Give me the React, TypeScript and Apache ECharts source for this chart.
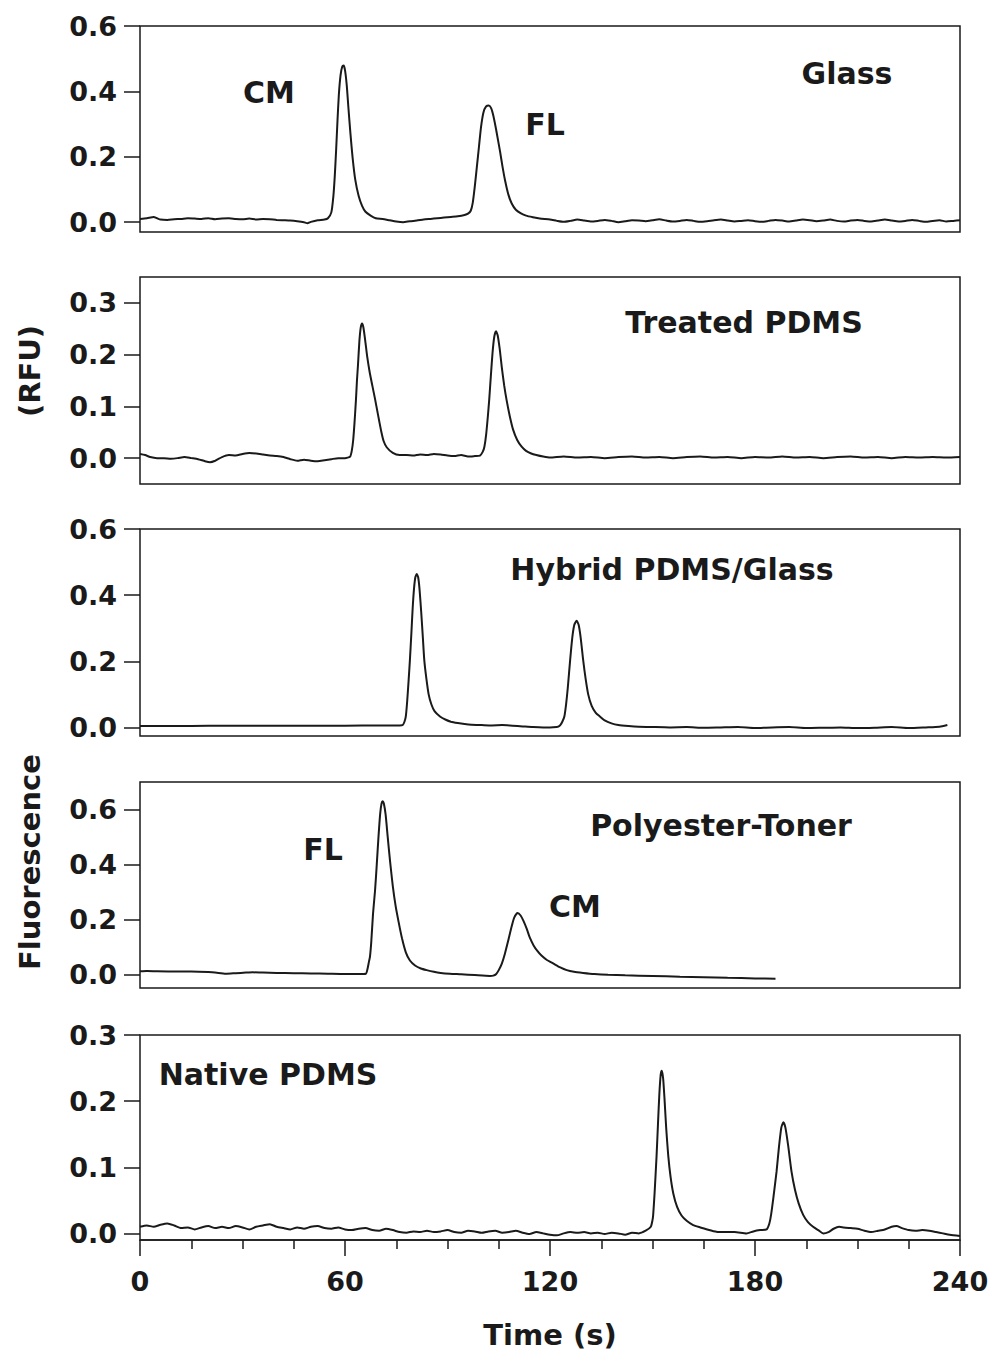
import React, { useEffect, useRef } from "react";
import * as echarts from "echarts";

// ---------- data (time s, fluorescence RFU) ----------
const glassTrace: number[][] = [
  [0, 0.01], [2, 0.012], [4, 0.016], [5, 0.012], [6, 0.008], [8, 0.007], [10, 0.009], [12, 0.01], [14, 0.012], [16, 0.011],
  [18, 0.01], [20, 0.012], [22, 0.009], [24, 0.011], [26, 0.012], [28, 0.01], [30, 0.009], [32, 0.011], [34, 0.008], [36, 0.01],
  [38, 0.009], [40, 0.007], [42, 0.006], [44, 0.005], [46, 0.003], [48, 0.0], [49, -0.003], [50, 0.001], [52, 0.006], [54, 0.008],
  [55, 0.012], [56, 0.03], [56.6, 0.08], [57, 0.14], [57.4, 0.22], [57.8, 0.31], [58.2, 0.39], [58.7, 0.45], [59.2, 0.476], [59.6, 0.479],
  [60, 0.465], [60.5, 0.42], [61, 0.35], [61.6, 0.27], [62.2, 0.2], [63, 0.13], [64, 0.08], [65, 0.05], [66, 0.032], [67.5, 0.02],
  [69, 0.012], [71, 0.01], [73, 0.006], [75, 0.002], [77, 0.0], [79, 0.003], [81, 0.005], [83, 0.008], [85, 0.01], [87, 0.012],
  [89, 0.014], [91, 0.016], [93, 0.018], [95, 0.022], [96, 0.026],
  [96.8, 0.035], [97.4, 0.06], [98, 0.11], [98.6, 0.17], [99.2, 0.23], [99.8, 0.29], [100.5, 0.335], [101.3, 0.354], [102.1, 0.357],
  [102.8, 0.348], [103.5, 0.322], [104.2, 0.285], [104.8, 0.25], [105.4, 0.215], [106.1, 0.17], [106.9, 0.125], [107.8, 0.085],
  [108.8, 0.057], [110, 0.038], [111.5, 0.027], [113, 0.02], [115, 0.015], [117, 0.011], [120, 0.008],
  [122, 0.004], [124, 0.001], [126, 0.004], [128, 0.008], [130, 0.005], [132, 0.002], [134, 0.004], [136, 0.007], [138, 0.004],
  [140, 0.0], [142, 0.003], [144, 0.006], [146, 0.005], [148, 0.003], [150, 0.006], [152, 0.009], [154, 0.005], [156, 0.002],
  [158, 0.004], [160, 0.007], [162, 0.004], [164, 0.001], [166, 0.003], [168, 0.006], [170, 0.008], [172, 0.005], [174, 0.002],
  [176, 0.004], [178, 0.006], [180, 0.003], [182, 0.001], [184, 0.004], [186, 0.007], [188, 0.005], [190, 0.002], [192, 0.005],
  [194, 0.008], [196, 0.006], [198, 0.003], [200, 0.005], [202, 0.008], [204, 0.004], [206, 0.002], [208, 0.005], [210, 0.007],
  [212, 0.004], [214, 0.002], [216, 0.005], [218, 0.008], [220, 0.005], [222, 0.002], [224, 0.004], [226, 0.007], [228, 0.004],
  [230, 0.001], [232, 0.004], [234, 0.006], [236, 0.002], [238, 0.004], [240, 0.006],
];

const treatedTrace: number[][] = [
  [0, 0.008], [1.5, 0.006], [3, 0.002], [5, 0.0], [7, 0.0], [9, -0.001], [11, 0.0], [13, 0.002], [15, 0.0], [17, -0.002],
  [19, -0.006], [20.5, -0.008], [22, -0.005], [24, 0.002], [26, 0.006], [28, 0.005], [30, 0.008], [32, 0.01], [34, 0.009],
  [36, 0.007], [38, 0.005], [40, 0.004], [42, 0.002], [44, -0.002], [46, -0.005], [48, -0.003], [50, -0.005], [52, -0.006],
  [54, -0.004], [56, -0.002], [58, 0.0], [60, 0.0], [61.5, 0.003],
  [62, 0.015], [62.4, 0.035], [62.8, 0.07], [63.2, 0.112], [63.5, 0.15], [63.8, 0.18], [64.2, 0.225], [64.6, 0.252], [65, 0.26],
  [65.4, 0.252], [65.9, 0.228], [66.5, 0.196], [67.2, 0.167], [68, 0.14], [68.8, 0.114], [69.6, 0.086], [70.6, 0.052],
  [71.3, 0.033], [72.2, 0.021], [74, 0.01], [76, 0.006],
  [78, 0.006], [80, 0.005], [82, 0.007], [84, 0.006], [86, 0.008], [88, 0.007], [90, 0.005], [92, 0.004], [94, 0.006],
  [96, 0.003], [98, 0.004], [99.5, 0.005],
  [100.3, 0.012], [100.8, 0.022], [101.3, 0.045], [101.8, 0.08], [102.2, 0.112], [102.7, 0.16], [103.2, 0.205], [103.7, 0.235],
  [104.2, 0.245], [104.7, 0.237], [105.3, 0.21], [105.9, 0.175], [106.6, 0.14], [107.3, 0.112], [108.2, 0.082], [109.2, 0.055],
  [110.4, 0.035], [111.7, 0.022], [113, 0.014], [114.5, 0.009], [116, 0.006],
  [118, 0.003], [120, 0.001], [124, 0.003], [128, 0.001], [132, 0.002], [136, 0.0], [140, 0.002], [144, 0.003], [148, 0.001],
  [152, 0.002], [156, 0.0], [160, 0.002], [164, 0.003], [168, 0.001], [172, 0.002], [176, 0.0], [180, 0.002], [184, 0.001],
  [188, 0.003], [192, 0.001], [196, 0.002], [200, 0.0], [204, 0.002], [208, 0.003], [212, 0.001], [216, 0.002], [220, 0.0],
  [224, 0.002], [228, 0.001], [232, 0.002], [236, 0.001], [240, 0.002],
];

const hybridTrace: number[][] = [
  [0, 0.005], [10, 0.005], [20, 0.006], [30, 0.006], [40, 0.006], [50, 0.006], [60, 0.006], [70, 0.007], [76, 0.007],
  [76.9, 0.008], [77.4, 0.018], [77.8, 0.034], [78.2, 0.08], [78.6, 0.14], [79, 0.205], [79.4, 0.28], [79.8, 0.36], [80.2, 0.42],
  [80.6, 0.455], [81, 0.464], [81.4, 0.455], [81.8, 0.42], [82.3, 0.35], [82.8, 0.27], [83.2, 0.205], [83.8, 0.15], [84.5, 0.1],
  [85.3, 0.07], [86.2, 0.05], [87.8, 0.034], [89.5, 0.024], [91, 0.018], [93, 0.014], [95, 0.011], [97, 0.009], [100, 0.008],
  [103, 0.007], [106, 0.008], [109, 0.006], [112, 0.004], [115, 0.002], [118, 0.001], [120, 0.001], [122, 0.002],
  [122.4, 0.003], [123, 0.008], [123.6, 0.018], [124.2, 0.034], [124.7, 0.07], [125.2, 0.12], [125.9, 0.205], [126.5, 0.27],
  [127.1, 0.31], [127.8, 0.323], [128.4, 0.31], [129, 0.27], [129.7, 0.205], [130.4, 0.15], [131.2, 0.1], [132.2, 0.066],
  [133.4, 0.045], [134.6, 0.034], [136, 0.022], [138, 0.013], [140, 0.008], [143, 0.005], [146, 0.003],
  [150, 0.002], [155, 0.001], [160, 0.002], [165, 0.0], [170, 0.001], [175, 0.002], [180, -0.001], [185, 0.001], [190, 0.002],
  [195, -0.001], [200, 0.0], [205, 0.001], [210, -0.001], [215, 0.0], [220, 0.002], [225, -0.001], [230, 0.001], [234, 0.003],
  [236.3, 0.008],
];

const polyesterTrace: number[][] = [
  [0, 0.011], [2, 0.012], [5, 0.011], [10, 0.01], [15, 0.01], [20, 0.008], [23, 0.005], [25.4, 0.002], [28, 0.004], [31, 0.006],
  [33, 0.007], [36, 0.006], [40, 0.005], [45, 0.004], [50, 0.003], [55, 0.002], [60, 0.001], [64, 0.001], [66.1, 0.002],
  [66.6, 0.02], [67, 0.045], [67.3, 0.063], [67.7, 0.12], [68.2, 0.22], [68.8, 0.306], [69.3, 0.4], [69.8, 0.5], [70.3, 0.585],
  [70.7, 0.622], [71, 0.63], [71.4, 0.62], [71.9, 0.58], [72.5, 0.5], [73.2, 0.41], [74, 0.32], [74.8, 0.25], [75.7, 0.19],
  [76.7, 0.13], [77.8, 0.08], [79, 0.05], [80.5, 0.032], [82.2, 0.021], [83.9, 0.015], [86, 0.009], [88, 0.005], [90.7, 0.002],
  [94, 0.0], [98, -0.003], [102.4, -0.006],
  [103.4, -0.005], [104.2, 0.0], [105, 0.015], [105.9, 0.039], [106.8, 0.075], [107.8, 0.124], [108.7, 0.17], [109.5, 0.205],
  [110.5, 0.223], [111.4, 0.214], [112.2, 0.195], [113.2, 0.165], [114.1, 0.133], [115.2, 0.105], [116.3, 0.085], [117.5, 0.068],
  [119, 0.053], [121, 0.039], [123, 0.025], [124.9, 0.015], [127, 0.009], [129.7, 0.005], [133, 0.001], [137, -0.002], [142, -0.004],
  [150, -0.006], [158, -0.009], [165, -0.011], [172, -0.013], [180, -0.015], [186, -0.016],
];

const nativeTrace: number[][] = [
  [0, 0.01], [2, 0.012], [4, 0.01], [6, 0.013], [8, 0.015], [10, 0.012], [12, 0.008], [14, 0.009], [16, 0.006], [18, 0.009],
  [20, 0.011], [22, 0.008], [24, 0.01], [26, 0.008], [28, 0.011], [30, 0.009], [32, 0.006], [34, 0.01], [36, 0.012], [38, 0.014],
  [40, 0.01], [42, 0.008], [44, 0.006], [46, 0.009], [48, 0.007], [50, 0.01], [52, 0.011], [54, 0.008], [56, 0.007], [58, 0.009],
  [60, 0.006], [62, 0.005], [64, 0.007], [66, 0.008], [68, 0.005], [70, 0.004], [72, 0.007], [74, 0.005], [76, 0.002], [78, 0.001],
  [80, 0.003], [82, 0.002], [84, 0.004], [86, 0.002], [88, 0.003], [90, 0.005], [92, 0.002], [94, 0.001], [96, 0.004], [98, 0.003],
  [100, 0.001], [102, 0.003], [104, 0.004], [106, 0.001], [108, 0.002], [110, 0.004], [112, 0.001], [114, -0.001], [116, 0.002],
  [118, 0.0], [120, -0.002], [122, -0.003], [124, 0.0], [126, 0.002], [128, 0.001], [130, 0.002], [132, 0.0], [134, 0.001],
  [136, -0.001], [138, 0.001], [140, 0.0], [142, -0.002], [144, 0.001], [146, 0.0], [148, 0.004], [149.5, 0.01],
  [150, 0.02], [150.2, 0.028], [150.6, 0.06], [151.2, 0.118], [151.6, 0.165], [152, 0.21], [152.4, 0.24], [152.7, 0.246],
  [153.1, 0.235], [153.5, 0.205], [154, 0.16], [154.6, 0.118], [155.3, 0.085], [156.1, 0.06], [157.2, 0.04], [158.5, 0.027],
  [160, 0.019], [161.9, 0.0125], [164, 0.009], [166, 0.006], [168.7, 0.0025], [171, 0.002], [174, 0.002], [177.5, 0.0],
  [179.5, 0.003], [181.5, 0.005], [183.4, 0.006],
  [184.2, 0.015], [184.7, 0.028], [185.4, 0.055], [186.3, 0.093], [187, 0.13], [187.7, 0.16], [188.3, 0.168], [188.9, 0.16],
  [189.7, 0.133], [190.7, 0.093], [191.7, 0.066], [192.8, 0.045], [194.1, 0.028], [195.5, 0.017], [197, 0.01], [198.5, 0.005],
  [200, 0.0], [201.5, 0.002], [203, 0.007], [204.6, 0.01], [206, 0.009], [208, 0.008], [210, 0.007], [212, 0.004], [214, 0.002],
  [216, 0.004], [218, 0.006], [220, 0.01], [221.4, 0.011], [223, 0.008], [225, 0.005], [227, 0.004], [229, 0.005], [231, 0.004],
  [233, 0.002], [235, 0.0], [237, -0.002], [240, -0.004],
];

const traces = [glassTrace, treatedTrace, hybridTrace, polyesterTrace, nativeTrace];
const yMins = [-0.03, -0.05, -0.025, -0.05, -0.01];
const yMaxs = [0.6, 0.35, 0.6, 0.7, 0.3];
const yTicks = [
  [0, 0.2, 0.4, 0.6],
  [0, 0.1, 0.2, 0.3],
  [0, 0.2, 0.4, 0.6],
  [0, 0.2, 0.4, 0.6],
  [0, 0.1, 0.2, 0.3],
];
const xTickLabels = [0, 60, 120, 180, 240];

// annotation labels: [text, x px, y px]
const annotations: [string, number, number][] = [
  ["CM", 269, 92],
  ["FL", 545, 124],
  ["Glass", 847, 73],
  ["Treated PDMS", 744, 322],
  ["Hybrid PDMS/Glass", 672, 569],
  ["FL", 323, 849],
  ["Polyester-Toner", 721, 825],
  ["CM", 575, 906],
  ["Native PDMS", 268, 1074],
];

const gridTops = [26, 277, 529, 782, 1035];
const gridHeights = [206, 207, 207, 206, 205];

const FONT = "DejaVu Sans";
const INK = "#1a1a1a";

export default function App() {
  const ref = useRef<HTMLDivElement>(null);
  useEffect(() => {
    if (!ref.current) return;
    const chart = echarts.init(ref.current, undefined, { renderer: "svg" });
    const last = traces.length - 1;
    const option: any = {
      animation: false,
      backgroundColor: "#ffffff",
      grid: traces.map((_, i) => ({
        left: 140,
        width: 820,
        top: gridTops[i],
        height: gridHeights[i],
        show: true,
        borderColor: INK,
        borderWidth: 1.5,
        backgroundColor: "transparent",
      })),
      xAxis: traces.map((_, i) => ({
        type: "value",
        gridIndex: i,
        min: 0,
        max: 240,
        interval: 60,
        show: i === last,
        axisLine: { show: true, onZero: false, lineStyle: { color: INK, width: 1.5 } },
        axisTick: { show: true, inside: false, length: 16, lineStyle: { color: INK, width: 1.5 } },
        minorTick: { show: true, splitNumber: 4, length: 9, lineStyle: { color: INK, width: 1.5 } },
        splitLine: { show: false },
        axisLabel: {
          show: true,
          margin: 28,
          fontFamily: FONT,
          fontWeight: "bold",
          fontSize: 27,
          color: INK,
          customValues: xTickLabels,
        },
        name: i === last ? "Time (s)" : "",
        nameLocation: "middle",
        nameGap: 80,
        nameTextStyle: { fontFamily: FONT, fontWeight: "bold", fontSize: 29, color: INK },
      })),
      yAxis: traces.map((_, i) => ({
        type: "value",
        gridIndex: i,
        min: yMins[i],
        max: yMaxs[i],
        axisLine: { show: false, onZero: false },
        axisTick: {
          show: true,
          inside: false,
          length: 16,
          lineStyle: { color: INK, width: 1.5 },
          customValues: yTicks[i],
        },
        splitLine: { show: false },
        axisLabel: {
          show: true,
          margin: 23,
          fontFamily: FONT,
          fontWeight: "bold",
          fontSize: 27,
          color: INK,
          customValues: yTicks[i],
          formatter: (v: number) => v.toFixed(1),
        },
      })),
      series: traces.map((d, i) => ({
        type: "line",
        xAxisIndex: i,
        yAxisIndex: i,
        data: d,
        showSymbol: false,
        symbol: "none",
        smooth: 0.2,
        lineStyle: { color: INK, width: 2 },
      })),
      graphic: [
        ...annotations.map(([t, x, y]) => ({
          type: "text",
          x,
          y,
          style: {
            text: t,
            fontFamily: FONT,
            fontWeight: "bold",
            fontSize: 30,
            fill: INK,
            align: "center",
            verticalAlign: "middle",
          },
        })),
        {
          type: "text",
          x: 30,
          y: 371,
          rotation: Math.PI / 2,
          style: {
            text: "(RFU)",
            fontFamily: FONT,
            fontWeight: "bold",
            fontSize: 29,
            fill: INK,
            align: "center",
            verticalAlign: "middle",
          },
        },
        {
          type: "text",
          x: 30,
          y: 862,
          rotation: Math.PI / 2,
          style: {
            text: "Fluorescence",
            fontFamily: FONT,
            fontWeight: "bold",
            fontSize: 29,
            fill: INK,
            align: "center",
            verticalAlign: "middle",
          },
        },
      ],
    };
    chart.setOption(option);
    return () => chart.dispose();
  }, []);
  return (
    <div
      ref={ref}
      style={{ position: "absolute", left: 0, top: 0, width: 993, height: 1357 }}
    />
  );
}
